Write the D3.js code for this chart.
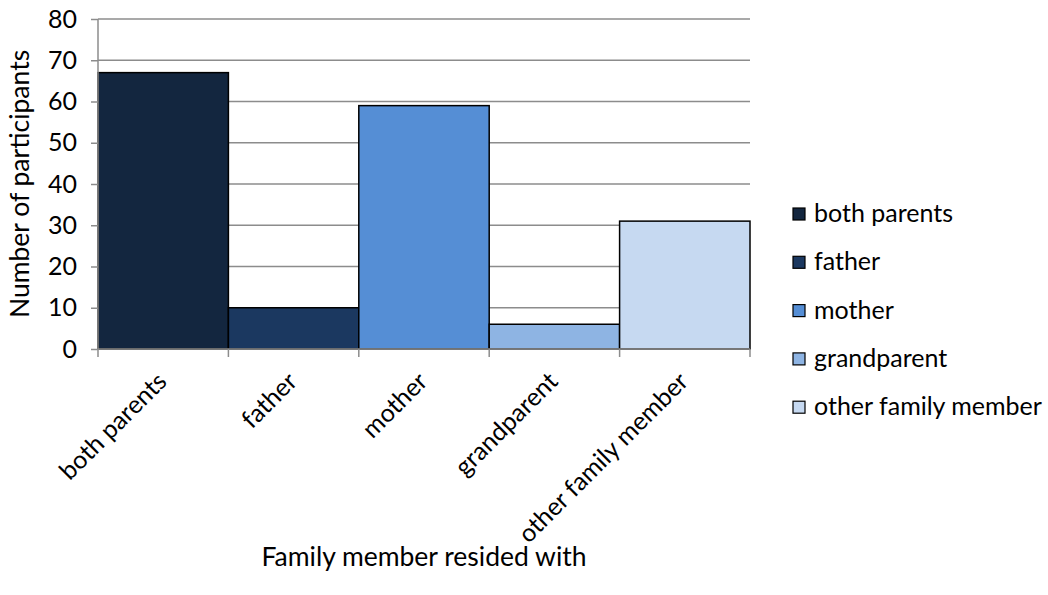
<!DOCTYPE html>
<html><head><meta charset="utf-8">
<script src="https://cdn.jsdelivr.net/npm/d3@7"></script>
<style>body{margin:0;background:#fff}svg{display:block}text{font-family:Lato,sans-serif;fill:#000}</style>
</head><body>
<svg id="c" width="1048" height="595"></svg>
<script>
const categories = ["both parents","father","mother","grandparent","other family member"];
const values = [67,10,59,6,31];
const colors = ["#13263F","#1B3860","#558ED5","#8EB4E3","#C6D9F1"];
const yTicks = [0,10,20,30,40,50,60,70,80];

const svg = d3.select("#c");
const m = {l:98, r:750, t:19, b:349};
const x = d3.scaleBand().domain(categories).range([m.l, m.r]).padding(0);
const y = d3.scaleLinear().domain([0,80]).range([m.b, m.t]);
const fs = 25;
const ff = "Lato, sans-serif";

svg.append("g").selectAll("line").data(yTicks.filter(d=>d>0)).join("line")
  .attr("x1", m.l).attr("x2", m.r).attr("y1", d=>y(d)).attr("y2", d=>y(d))
  .attr("stroke","#8c8c8c").attr("stroke-width",1.5);

svg.append("g").selectAll("rect").data(categories).join("rect")
  .attr("x", d=>x(d)).attr("width", x.bandwidth())
  .attr("y", (d,i)=>y(values[i])).attr("height", (d,i)=>y(0)-y(values[i]))
  .attr("fill", (d,i)=>colors[i]).attr("stroke","#000").attr("stroke-width",1.5);

const ya = svg.append("g").attr("transform",`translate(${m.l},0)`)
  .call(d3.axisLeft(y).tickValues(yTicks).tickSize(7).tickPadding(14));
ya.select(".domain").attr("stroke","#8c8c8c").attr("stroke-width",1.5).attr("d",`M0,${m.t}V${m.b}`);
ya.selectAll(".tick line").attr("stroke","#8c8c8c").attr("stroke-width",1.5);
ya.selectAll(".tick text").attr("font-size",fs).attr("font-family",ff).attr("fill","#000");

const xa = svg.append("g").attr("transform",`translate(0,${m.b})`)
  .call(d3.axisBottom(x).tickSize(0).tickFormat(""));
xa.select(".domain").attr("stroke","#8c8c8c").attr("stroke-width",1.5).attr("d",`M${m.l},0H${m.r}`);
const bounds = categories.map(d=>x(d)).concat([m.r]);
svg.append("g").selectAll("line").data(bounds).join("line")
  .attr("x1",d=>d).attr("x2",d=>d).attr("y1",m.b).attr("y2",m.b+8)
  .attr("stroke","#8c8c8c").attr("stroke-width",1.5);
svg.append("g").selectAll("text").data(categories).join("text")
  .attr("transform", d=>`translate(${x(d)+x.bandwidth()/2+5},${m.b+34}) rotate(-45)`)
  .attr("text-anchor","end").attr("font-size",fs).attr("font-family",ff).text(d=>d);

svg.append("text").attr("transform",`translate(29,${(m.t+m.b)/2}) rotate(-90)`)
  .attr("text-anchor","middle").attr("font-size",26.5).attr("font-family",ff).text("Number of participants");
svg.append("text").attr("x",424).attr("y",566).attr("text-anchor","middle")
  .attr("font-size",26.5).attr("font-family",ff).text("Family member resided with");

const lg = svg.append("g").selectAll("g").data(categories).join("g")
  .attr("transform",(d,i)=>`translate(793,${214+i*48.3})`);
lg.append("rect").attr("x",0).attr("y",-6).attr("width",12).attr("height",12)
  .attr("fill",(d,i)=>colors[i]).attr("stroke","#000").attr("stroke-width",1.2);
lg.append("text").attr("x",21).attr("y",8).attr("font-size",fs).attr("font-family",ff).text(d=>d);
</script>
</body></html>
